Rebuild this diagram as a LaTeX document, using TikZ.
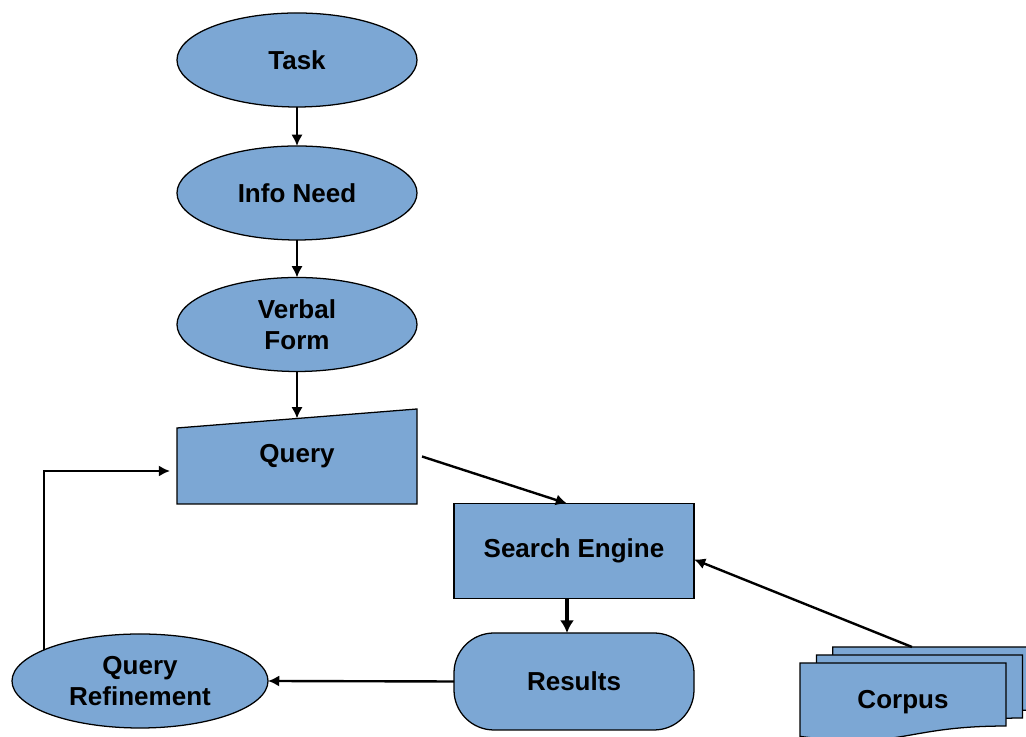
\documentclass[tikz,border=0pt]{standalone}
\usepackage{fontspec}
\setmainfont{Liberation Sans}
\usetikzlibrary{shapes.geometric,arrows.meta}
\definecolor{boxblue}{RGB}{124,167,212}

\begin{document}
\begin{tikzpicture}
\tikzset{ >={Latex[length=8pt,width=8pt]}, inner sep=0pt, outer sep=0pt,
  label font/.style={font=\bfseries\fontsize{18.5}{22}\selectfont},
  blob/.style={ellipse, draw, fill=boxblue, line width=0.9pt, minimum width=6cm, minimum height=2.35cm, align=center, label font},
  boxnode/.style={rectangle, draw, fill=boxblue, line width=0.9pt, minimum width=6cm, minimum height=2.375cm, label font},
  link/.style={->, line width=1.7pt},
  biglink/.style={-{Latex[length=9pt,width=10pt]}, line width=3pt},
  docshape/.style={draw, fill=boxblue, line width=0.9pt},
}

\clip (0,0) rectangle (25.65,18.425);

%\draw [lightgray, dashed](0,0) grid (25,18);

\node [blob] (task)   at (7.425,16.925) {Task};
\node [blob] (info)   at (7.425,13.6)   {Info Need};
\node [blob] (verbal) at (7.425,10.3125) {Verbal\\Form};

% query: slanted top
\draw [docshape] (4.425,5.825) -- (10.425,5.825) -- (10.425,8.2) -- (4.425,7.725) -- cycle;
\node [label font, minimum width=6cm, minimum height=2.375cm] (query) at (7.425,7.0125) {Query};

\node [boxnode] (search) at (14.35,4.65) {Search Engine};
\node [boxnode, rounded corners=1.0cm, minimum height=2.425cm] (results) at (14.35,1.3875) {Results};
\node [blob, minimum width=6.4cm] (refine) at (3.5,1.4) {Query\\Refinement};

% corpus: three stacked pages
\foreach \s in {2,1,0}
  \draw [docshape, shift={(20+\s*0.41,1.85+\s*0.2)}]
    (0,0) -- (5.15,0) -- (5.15,-1.576) .. controls (2.575,-1.576) and (2.575,-2.176) .. (0,-1.835) -- cycle;
\node [label font] (corpus) at (22.575,0.875) {Corpus};
\coordinate (corpustop) at (22.8,2.25);

\draw [link] (task.south) -- (info.north);
\draw [link] (info.south) -- (verbal.north);
\draw [link] (verbal.south) -- ([yshift=-0.2375cm]query.north);
\draw [link] ([xshift=0.125cm]query.east) -- ([xshift=-0.175cm]search.north);
\draw [biglink] ([xshift=-0.175cm]search.south) -- ([xshift=-0.175cm]results.north);
\draw [link] (results.west) -- (refine.east);
\draw [link] (refine.162) |- ([xshift=-0.175cm,yshift=-0.3625cm]query.west);
\draw [link] (corpustop) -- (search.-4);
\end{tikzpicture}
\end{document}
